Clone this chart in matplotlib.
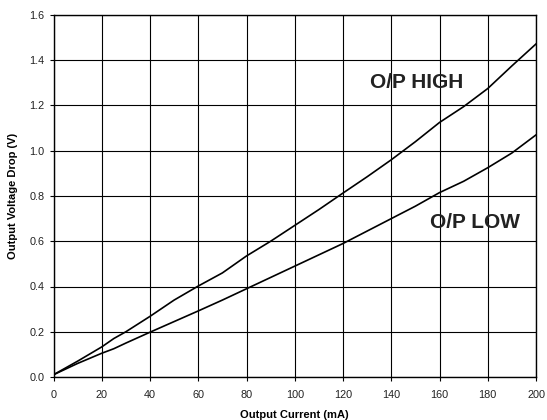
import numpy as np
import matplotlib.pyplot as plt

plt.rcParams['font.family'] = 'Liberation Sans'

# Output current (mA) and voltage drop (V)
current = [0, 5, 10, 20, 25, 30, 40, 50, 60, 70, 80, 90, 100, 110, 120, 130, 140, 150, 160, 170, 180, 190, 200]
vdrop_high = [0.01, 0.04, 0.07, 0.133, 0.17, 0.20, 0.268, 0.34, 0.402, 0.46, 0.535, 0.60, 0.67, 0.74, 0.813, 0.885, 0.96, 1.04, 1.125, 1.195, 1.275, 1.375, 1.472]
vdrop_low = [0.01, 0.035, 0.06, 0.105, 0.125, 0.15, 0.198, 0.245, 0.292, 0.34, 0.39, 0.44, 0.49, 0.54, 0.59, 0.645, 0.70, 0.755, 0.815, 0.865, 0.925, 0.99, 1.07]

xticks = np.arange(0, 201, 20)
yticks = np.arange(0, 1.61, 0.2)

fig = plt.figure(figsize=(5.47, 4.2), dpi=100)
ax = fig.add_axes([53.5/547, 1 - 377/420, (536-53.5)/547, (377-15)/420])

ax.plot(current, vdrop_high, color='black', linewidth=1.2)
ax.plot(current, vdrop_low, color='black', linewidth=1.2)

ax.set_xlim(0, 200)
ax.set_ylim(0, 1.6)
ax.set_xticks(xticks)
ax.set_yticks(yticks)
ax.set_yticklabels(['%.1f' % v for v in yticks])
ax.grid(True, color='black', linewidth=0.8)
ax.tick_params(direction='out', length=3, width=0.8, labelsize=7.8, labelcolor='#222222')
ax.tick_params(axis='x', pad=6)
ax.tick_params(axis='y', pad=3.5)
for s in ax.spines.values():
    s.set_linewidth(1.0)

ax.set_xlabel('Output Current (mA)', fontsize=8, fontweight='bold', labelpad=7.5)
ax.set_ylabel('Output Voltage Drop (V)', fontsize=8, fontweight='bold', labelpad=8)

ax.text(150.5, 1.302, 'O/P HIGH', fontsize=15, fontweight='bold', color='#222222', ha='center', va='center')
ax.text(174.9, 0.681, 'O/P LOW', fontsize=15, fontweight='bold', color='#222222', ha='center', va='center')

fig.savefig('out.png', dpi=100)
